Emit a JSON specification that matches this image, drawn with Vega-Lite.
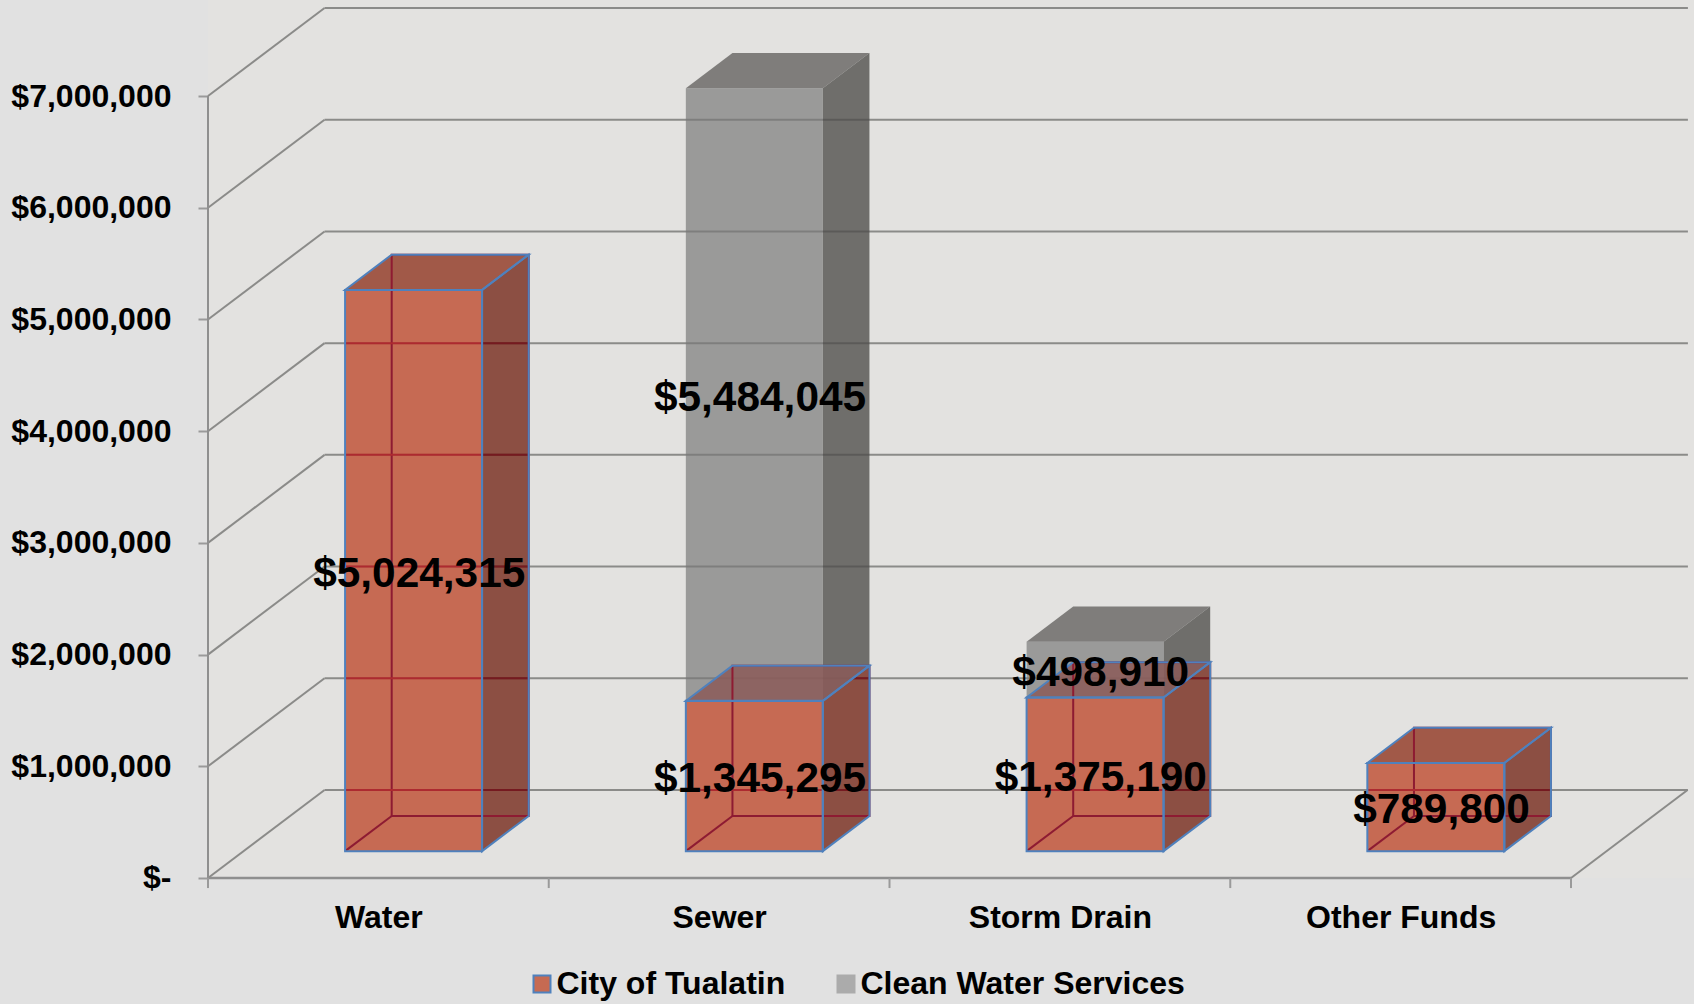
{
"$schema":"https://vega.github.io/schema/vega-lite/v6.json",
"width":1694,"height":1004,"padding":0,"autosize":{"type":"none"},
"background":"#e1e1e1",
"config":{"view":{"stroke":null},"font":"Liberation Sans","text":{"font":"Liberation Sans"}},
"resolve":{"axis":{"x":"independent","y":"independent"}},
"datasets":{
"bars":[
{"category":"Water","series":"City of Tualatin","base":0,"value":5024315},
{"category":"Sewer","series":"Clean Water Services","base":1345295,"value":5484045},
{"category":"Storm Drain","series":"Clean Water Services","base":1375190,"value":498910},
{"category":"Sewer","series":"City of Tualatin","base":0,"value":1345295},
{"category":"Storm Drain","series":"City of Tualatin","base":0,"value":1375190},
{"category":"Other Funds","series":"City of Tualatin","base":0,"value":789800}
],
"levels":[{"level":0},{"level":1000000},{"level":2000000},{"level":3000000},{"level":4000000},{"level":5000000},{"level":6000000},{"level":7000000}],
"ticks":[{"tick":0},{"tick":1},{"tick":2},{"tick":3},{"tick":4}]
},
"data":{"name":"bars"},
"transform":[
{"calculate":"indexof(['Water','Sewer','Storm Drain','Other Funds'],datum.category)","as":"i"},
{"calculate":"datum.base+datum.value","as":"hi"},
{"calculate":"datum.i+0.4023","as":"xFL"},
{"calculate":"datum.i+0.8043","as":"xFR"},
{"calculate":"datum.i+0.5391","as":"xBL"},
{"calculate":"datum.i+0.9411","as":"xBR"},
{"calculate":"datum.base+240340","as":"yF0"},
{"calculate":"datum.hi+240340","as":"yF1"},
{"calculate":"datum.base+555540","as":"yB0"},
{"calculate":"datum.hi+555540","as":"yB1"},
{"calculate":"[0,1]","as":"t"},
{"flatten":["t"]},
{"calculate":"datum.xFR+datum.t*(datum.xBR-datum.xFR)","as":"sideX"},
{"calculate":"datum.yF0+datum.t*(datum.yB0-datum.yF0)","as":"sideLo"},
{"calculate":"datum.yF1+datum.t*(datum.yB1-datum.yF1)","as":"sideHi"},
{"calculate":"datum.xFL+datum.t*(datum.xBL-datum.xFL)","as":"topL"},
{"calculate":"datum.xFR+datum.t*(datum.xBR-datum.xFR)","as":"topR"},
{"calculate":"datum.i+0.5+0.12","as":"lx"},
{"calculate":"datum.base+datum.value/2+212000","as":"ly"}
],
"layer":[
{"data":{"name":"levels"},"transform":[{"filter":"datum.level==0"}],"mark":{"type":"rect","fill":"#e3e2e0"},
"encoding":{"x":{"datum":0,"type":"quantitative","scale":{"domain":[-0.6104,4.3609],"nice":false,"zero":false},"axis":null},"x2":{"datum":4.3609},"y":{"datum":0,"type":"quantitative","scale":{"domain":[-1128000,7860000],"nice":false,"zero":false},"axis":null},"y2":{"datum":7860000}}},

{"data":{"name":"levels"},"transform":[{"calculate":"datum.level+788000","as":"L"}],"mark":{"type":"rule","color":"#8b8b89","strokeWidth":2},
"encoding":{"x":{"datum":0.342,"type":"quantitative","scale":{"domain":[-0.6104,4.3609],"nice":false,"zero":false},
"axis":{"values":[0.5,1.5,2.5,3.5],"labelExpr":"['Water','Sewer','Storm Drain','Other Funds'][floor(datum.value)]","offset":-126,"domain":false,"ticks":false,"grid":false,"title":null,"labelFont":"Liberation Sans","labelFontWeight":"bold","labelFontSize":32,"labelColor":"#000000","labelPadding":24,"labelLimit":500,"labelBound":false,"labelOverlap":false,"labelFlush":false,"orient":"bottom"}},
"x2":{"datum":4.343},
"y":{"field":"L","type":"quantitative","scale":{"domain":[-1128000,7860000],"nice":false,"zero":false},
"axis":{"values":[0,1000000,2000000,3000000,4000000,5000000,6000000,7000000],"labelExpr":"datum.value==0?'$-':format(datum.value,'$,.0f')","offset":-208,"domain":false,"grid":false,"title":null,"tickSize":10,"tickColor":"#9a9a9a","tickWidth":2,"labelFont":"Liberation Sans","labelFontWeight":"bold","labelFontSize":32,"labelColor":"#000000","labelPadding":27,"labelLimit":500,"labelBound":false,"labelOverlap":false,"labelFlush":false,"orient":"left"}}}},

{"data":{"name":"levels"},"transform":[{"calculate":"datum.level+788000","as":"L"}],"mark":{"type":"rule","color":"#8b8b89","strokeWidth":2},
"encoding":{"x":{"datum":0,"type":"quantitative","scale":{"domain":[-0.6104,4.3609],"nice":false,"zero":false},"axis":null},"x2":{"datum":0.342},"y":{"field":"level","type":"quantitative","scale":{"domain":[-1128000,7860000],"nice":false,"zero":false},"axis":null},"y2":{"field":"L"}}},

{"data":{"name":"levels"},"transform":[{"filter":"datum.level==0"},{"calculate":"datum.level+788000","as":"L"}],"mark":{"type":"rule","color":"#8b8b89","strokeWidth":2},
"encoding":{"x":{"datum":4,"type":"quantitative","scale":{"domain":[-0.6104,4.3609],"nice":false,"zero":false},"axis":null},"x2":{"datum":4.342},"y":{"field":"level","type":"quantitative","scale":{"domain":[-1128000,7860000],"nice":false,"zero":false},"axis":null},"y2":{"field":"L"}}},

{"data":{"name":"levels"},"transform":[{"filter":"datum.level==0"}],"mark":{"type":"rule","color":"#8f8f8f","strokeWidth":2.5},
"encoding":{"x":{"datum":0,"type":"quantitative","scale":{"domain":[-0.6104,4.3609],"nice":false,"zero":false},"axis":null},"x2":{"datum":4},"y":{"field":"level","type":"quantitative","scale":{"domain":[-1128000,7860000],"nice":false,"zero":false},"axis":null}}},

{"data":{"name":"levels"},"transform":[{"filter":"datum.level==0"}],"mark":{"type":"rule","color":"#8f8f8f","strokeWidth":2},
"encoding":{"x":{"datum":0,"type":"quantitative","scale":{"domain":[-0.6104,4.3609],"nice":false,"zero":false},"axis":null},"y":{"datum":0,"type":"quantitative","scale":{"domain":[-1128000,7860000],"nice":false,"zero":false},"axis":null},"y2":{"datum":7000000}}},

{"data":{"name":"ticks"},"mark":{"type":"rule","color":"#9a9a9a","strokeWidth":2},
"encoding":{"x":{"field":"tick","type":"quantitative","scale":{"domain":[-0.6104,4.3609],"nice":false,"zero":false},"axis":null},"y":{"datum":0,"type":"quantitative","scale":{"domain":[-1128000,7860000],"nice":false,"zero":false},"axis":null},"y2":{"datum":-90000}}},

{"transform":[{"filter":"datum.series=='Clean Water Services'"}],"mark":{"type":"area","orient":"vertical","fill":"#4e4d4a","fillOpacity":0.78},
"encoding":{"x":{"field":"sideX","type":"quantitative","scale":{"domain":[-0.6104,4.3609],"nice":false,"zero":false},"axis":null},"y":{"field":"sideLo","type":"quantitative","scale":{"domain":[-1128000,7860000],"nice":false,"zero":false},"axis":null},"y2":{"field":"sideHi"},"detail":{"field":"category"}}},

{"transform":[{"filter":"datum.series=='Clean Water Services'"}],"mark":{"type":"area","orient":"horizontal","fill":"#656461","fillOpacity":0.8},
"encoding":{"y":{"field":"sideHi","type":"quantitative","scale":{"domain":[-1128000,7860000],"nice":false,"zero":false},"axis":null},"x":{"field":"topL","type":"quantitative","scale":{"domain":[-0.6104,4.3609],"nice":false,"zero":false},"axis":null},"x2":{"field":"topR"},"detail":{"field":"category"}}},

{"transform":[{"filter":"datum.series=='Clean Water Services' && datum.t==0"}],"mark":{"type":"rect","fill":"#777777","fillOpacity":0.68},
"encoding":{"x":{"field":"xFL","type":"quantitative","scale":{"domain":[-0.6104,4.3609],"nice":false,"zero":false},"axis":null},"x2":{"field":"xFR"},"y":{"field":"yF0","type":"quantitative","scale":{"domain":[-1128000,7860000],"nice":false,"zero":false},"axis":null},"y2":{"field":"yF1"}}},

{"transform":[{"filter":"datum.series=='City of Tualatin' && (datum.category=='Water' || datum.category=='Other Funds')"}],"mark":{"type":"area","orient":"horizontal","fill":"#842007","fillOpacity":0.7},
"encoding":{"y":{"field":"sideHi","type":"quantitative","scale":{"domain":[-1128000,7860000],"nice":false,"zero":false},"axis":null},"x":{"field":"topL","type":"quantitative","scale":{"domain":[-0.6104,4.3609],"nice":false,"zero":false},"axis":null},"x2":{"field":"topR"},"detail":{"field":"category"}}},

{"transform":[{"filter":"datum.series=='City of Tualatin' && (datum.category=='Sewer' || datum.category=='Storm Drain')"}],"mark":{"type":"area","orient":"horizontal","fill":"#8b5a58","fillOpacity":0.85},
"encoding":{"y":{"field":"sideHi","type":"quantitative","scale":{"domain":[-1128000,7860000],"nice":false,"zero":false},"axis":null},"x":{"field":"topL","type":"quantitative","scale":{"domain":[-0.6104,4.3609],"nice":false,"zero":false},"axis":null},"x2":{"field":"topR"},"detail":{"field":"category"}}},

{"transform":[{"filter":"datum.series=='City of Tualatin'"}],"mark":{"type":"area","orient":"vertical","fill":"#671100","fillOpacity":0.7},
"encoding":{"x":{"field":"sideX","type":"quantitative","scale":{"domain":[-0.6104,4.3609],"nice":false,"zero":false},"axis":null},"y":{"field":"sideLo","type":"quantitative","scale":{"domain":[-1128000,7860000],"nice":false,"zero":false},"axis":null},"y2":{"field":"sideHi"},"detail":{"field":"category"}}},

{"transform":[{"filter":"datum.series=='City of Tualatin' && datum.t==0"}],"mark":{"type":"rect","fill":"#c15539","fillOpacity":0.85},
"encoding":{"x":{"field":"xFL","type":"quantitative","scale":{"domain":[-0.6104,4.3609],"nice":false,"zero":false},"axis":null},"x2":{"field":"xFR"},"y":{"field":"yF0","type":"quantitative","scale":{"domain":[-1128000,7860000],"nice":false,"zero":false},"axis":null},"y2":{"field":"yF1"}}},

{"transform":[{"filter":"datum.series=='City of Tualatin' && datum.t==0"}],"mark":{"type":"rect","fillOpacity":0,"stroke":"#8e1b32","strokeWidth":2},
"encoding":{"x":{"field":"xBL","type":"quantitative","scale":{"domain":[-0.6104,4.3609],"nice":false,"zero":false},"axis":null},"x2":{"field":"xBR"},"y":{"field":"yB0","type":"quantitative","scale":{"domain":[-1128000,7860000],"nice":false,"zero":false},"axis":null},"y2":{"field":"yB1"}}},

{"transform":[{"filter":"datum.series=='City of Tualatin' && datum.t==0"}],"mark":{"type":"rule","color":"#8e1b32","strokeWidth":2},
"encoding":{"x":{"field":"xFL","type":"quantitative","scale":{"domain":[-0.6104,4.3609],"nice":false,"zero":false},"axis":null},"x2":{"field":"xBL"},"y":{"field":"yF0","type":"quantitative","scale":{"domain":[-1128000,7860000],"nice":false,"zero":false},"axis":null},"y2":{"field":"yB0"}}},

{"transform":[{"filter":"datum.series=='City of Tualatin' && datum.t==0"},{"calculate":"[0,1000000,2000000,3000000,4000000,5000000,6000000,7000000]","as":"lv"},{"flatten":["lv"]},{"calculate":"datum.lv+788000","as":"L"},{"filter":"datum.L>datum.yF0 && datum.L<datum.yF1"}],"mark":{"type":"rule","color":"#ad2a30","strokeWidth":2},
"encoding":{"x":{"field":"xFL","type":"quantitative","scale":{"domain":[-0.6104,4.3609],"nice":false,"zero":false},"axis":null},"x2":{"field":"xFR"},"y":{"field":"L","type":"quantitative","scale":{"domain":[-1128000,7860000],"nice":false,"zero":false},"axis":null}}},

{"transform":[{"filter":"datum.series=='City of Tualatin' && datum.t==0"},{"calculate":"[0,1000000,2000000,3000000,4000000,5000000,6000000,7000000]","as":"lv"},{"flatten":["lv"]},{"calculate":"datum.lv+788000","as":"L"},{"filter":"datum.L>datum.yF0 && datum.L<datum.yB1"},{"calculate":"datum.xFR+max(0,(datum.L-datum.yF1)/(datum.yB1-datum.yF1))*(datum.xBR-datum.xFR)","as":"x0"}],"mark":{"type":"rule","color":"#751a20","strokeWidth":2},
"encoding":{"x":{"field":"x0","type":"quantitative","scale":{"domain":[-0.6104,4.3609],"nice":false,"zero":false},"axis":null},"x2":{"field":"xBR"},"y":{"field":"L","type":"quantitative","scale":{"domain":[-1128000,7860000],"nice":false,"zero":false},"axis":null}}},

{"transform":[{"filter":"datum.series=='City of Tualatin'"}],"mark":{"type":"area","orient":"horizontal","fillOpacity":0,"stroke":"#4f81bd","strokeWidth":2},
"encoding":{"y":{"field":"sideHi","type":"quantitative","scale":{"domain":[-1128000,7860000],"nice":false,"zero":false},"axis":null},"x":{"field":"topL","type":"quantitative","scale":{"domain":[-0.6104,4.3609],"nice":false,"zero":false},"axis":null},"x2":{"field":"topR"},"detail":{"field":"category"}}},

{"transform":[{"filter":"datum.series=='City of Tualatin'"}],"mark":{"type":"area","orient":"vertical","fillOpacity":0,"stroke":"#4f81bd","strokeWidth":2},
"encoding":{"x":{"field":"sideX","type":"quantitative","scale":{"domain":[-0.6104,4.3609],"nice":false,"zero":false},"axis":null},"y":{"field":"sideLo","type":"quantitative","scale":{"domain":[-1128000,7860000],"nice":false,"zero":false},"axis":null},"y2":{"field":"sideHi"},"detail":{"field":"category"}}},

{"transform":[{"filter":"datum.series=='City of Tualatin' && datum.t==0"}],"mark":{"type":"rect","fillOpacity":0,"stroke":"#4f81bd","strokeWidth":2},
"encoding":{"x":{"field":"xFL","type":"quantitative","scale":{"domain":[-0.6104,4.3609],"nice":false,"zero":false},"axis":null},"x2":{"field":"xFR"},"y":{"field":"yF0","type":"quantitative","scale":{"domain":[-1128000,7860000],"nice":false,"zero":false},"axis":null},"y2":{"field":"yF1"}}},

{"transform":[{"filter":"datum.t==0"}],"mark":{"type":"text","font":"Liberation Sans","fontWeight":"bold","fontSize":42.4,"color":"#000000","baseline":"middle","align":"center"},
"encoding":{"x":{"field":"lx","type":"quantitative","scale":{"domain":[-0.6104,4.3609],"nice":false,"zero":false},"axis":null},"y":{"field":"ly","type":"quantitative","scale":{"domain":[-1128000,7860000],"nice":false,"zero":false},"axis":null},"text":{"field":"value","type":"quantitative","format":"$,.0f"}}},

{"transform":[{"filter":"datum.t==0"}],"mark":{"type":"square","opacity":1},
"encoding":{"x":{"field":"lx","type":"quantitative","scale":{"domain":[-0.6104,4.3609],"nice":false,"zero":false},"axis":null},"y":{"field":"ly","type":"quantitative","scale":{"domain":[-1128000,7860000],"nice":false,"zero":false},"axis":null},"size":{"value":0},
"color":{"field":"series","type":"nominal","scale":{"domain":["City of Tualatin","Clean Water Services"],"range":["#c66a52","#ababab"]},
"legend":{"title":null,"orient":"none","legendX":526,"legendY":968,"direction":"horizontal","symbolType":"square","symbolSize":289,"symbolStrokeWidth":2,"labelFont":"Liberation Sans","labelFontWeight":"bold","labelFontSize":32,"labelColor":"#000000","labelLimit":500,"labelOffset":-1.5,"columnPadding":44}},
"stroke":{"field":"series","type":"nominal","scale":{"domain":["City of Tualatin","Clean Water Services"],"range":["#4f81bd","#ababab"]},"legend":{"title":null,"orient":"none","legendX":526,"legendY":968,"direction":"horizontal","symbolType":"square","symbolSize":289,"symbolStrokeWidth":2,"labelFont":"Liberation Sans","labelFontWeight":"bold","labelFontSize":32,"labelColor":"#000000","labelLimit":500,"labelOffset":-1.5,"columnPadding":44}}}}
]
}
